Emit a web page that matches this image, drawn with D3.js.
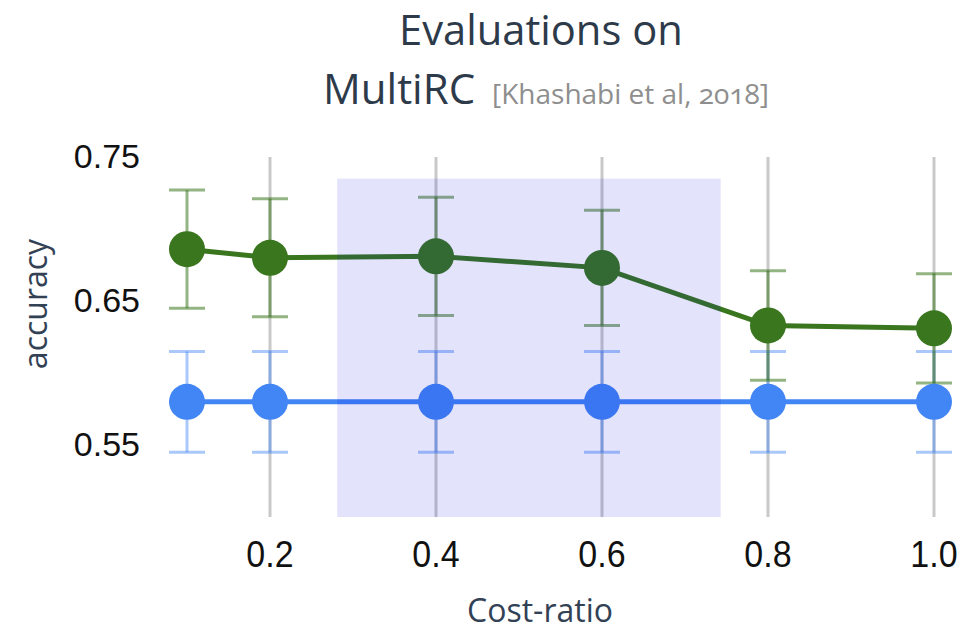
<!DOCTYPE html>
<html>
<head>
<meta charset="utf-8">
<script src="https://cdn.jsdelivr.net/npm/d3@7"></script>
<style>
  html, body { margin: 0; padding: 0; background: #fff; }
  svg { display: block; }
</style>
</head>
<body>
<svg id="chart" width="963" height="630"></svg>
<script>
// Cost-ratio settings evaluated
const costRatio = [0.1, 0.2, 0.4, 0.6, 0.8, 1.0];

// Upper series (green) accuracy and error half-widths
const greenAcc = [0.686, 0.680, 0.681, 0.673, 0.633, 0.631];
const greenErr = [0.041, 0.041, 0.041, 0.040, 0.038, 0.038];

// Lower series (blue) accuracy and error half-widths
const blueAcc = [0.580, 0.580, 0.580, 0.580, 0.580, 0.580];
const blueErr = [0.035, 0.035, 0.035, 0.035, 0.035, 0.035];

// Axis ticks
const xTicks = [0.2, 0.4, 0.6, 0.8, 1.0];
const yTicks = [0.55, 0.65, 0.75];

// Highlighted cost-ratio band (x extent, y extent)
const bandX = [0.281, 0.743];
const bandY = [0.5, 0.735];

const svg = d3.select("#chart");

const x = d3.scaleLinear().domain([0, 1.0]).range([104, 934]);
const y = d3.scaleLinear().domain([0.5, 0.75]).range([517, 157]);

const green = "#3a761e";
const blue = "#4285f4";

// vertical grid lines at x ticks
svg.append("g")
  .selectAll("line")
  .data(xTicks)
  .join("line")
  .attr("x1", d => x(d)).attr("x2", d => x(d))
  .attr("y1", y(0.75)).attr("y2", y(0.5))
  .attr("stroke", "#c9c9c9")
  .attr("stroke-width", 3);

// x tick labels
svg.append("g")
  .selectAll("text")
  .data(xTicks)
  .join("text")
  .attr("transform", d => `translate(${x(d)},567) scale(1,1.1)`)
  .attr("text-anchor", "middle")
  .attr("font-family", "Liberation Sans, Arial, sans-serif")
  .attr("font-size", 34)
  .attr("fill", "#111")
  .text(d => d.toFixed(1));

// y tick labels
svg.append("g")
  .selectAll("text")
  .data(yTicks)
  .join("text")
  .attr("x", 140)
  .attr("y", d => y(d) + 11)
  .attr("text-anchor", "end")
  .attr("font-family", "Liberation Sans, Arial, sans-serif")
  .attr("font-size", 34)
  .attr("fill", "#111")
  .text(d => d.toFixed(2));

function errorBars(acc, err, color) {
  const g = svg.append("g").attr("stroke", color).attr("stroke-width", 3);
  const rows = costRatio.map((c, i) => ({ c, lo: acc[i] - err[i], hi: acc[i] + err[i] }));
  g.selectAll("line.v").data(rows).join("line")
    .attr("class", "v")
    .attr("x1", d => x(d.c)).attr("x2", d => x(d.c))
    .attr("y1", d => y(d.hi)).attr("y2", d => y(d.lo));
  g.selectAll("line.top").data(rows).join("line")
    .attr("class", "top")
    .attr("x1", d => x(d.c) - 18).attr("x2", d => x(d.c) + 18)
    .attr("y1", d => y(d.hi)).attr("y2", d => y(d.hi));
  g.selectAll("line.bot").data(rows).join("line")
    .attr("class", "bot")
    .attr("x1", d => x(d.c) - 18).attr("x2", d => x(d.c) + 18)
    .attr("y1", d => y(d.lo)).attr("y2", d => y(d.lo));
}

function series(acc, color) {
  const pts = costRatio.map((c, i) => [c, acc[i]]);
  svg.append("path")
    .datum(pts)
    .attr("fill", "none")
    .attr("stroke", color)
    .attr("stroke-width", 5)
    .attr("d", d3.line().x(d => x(d[0])).y(d => y(d[1])));
  svg.append("g")
    .selectAll("circle")
    .data(pts)
    .join("circle")
    .attr("cx", d => x(d[0]))
    .attr("cy", d => y(d[1]))
    .attr("r", 18)
    .attr("fill", color);
}

errorBars(blueAcc, blueErr, "rgba(66,133,244,0.45)");
errorBars(greenAcc, greenErr, "rgba(58,118,30,0.55)");
series(blueAcc, blue);
series(greenAcc, green);

// translucent highlight band over the middle cost ratios
svg.append("rect")
  .attr("x", x(bandX[0]))
  .attr("y", y(bandY[1]))
  .attr("width", x(bandX[1]) - x(bandX[0]))
  .attr("height", y(bandY[0]) - y(bandY[1]))
  .attr("fill", "rgb(0,0,218)")
  .attr("fill-opacity", 0.11);

// titles
const titleFont = "Open Sans, Lato, sans-serif";
svg.append("text")
  .attr("x", 399).attr("y", 45)
  .attr("font-family", titleFont)
  .attr("font-size", 41.7)
  .attr("fill", "#2d3a4a")
  .text("Evaluations on");
svg.append("text")
  .attr("x", 323).attr("y", 104)
  .attr("font-family", titleFont)
  .attr("font-size", 42)
  .attr("fill", "#2d3a4a")
  .text("MultiRC");
svg.append("text")
  .attr("x", 492).attr("y", 104)
  .attr("font-family", titleFont)
  .attr("font-size", 28)
  .attr("fill", "#8e8e8e")
  .style("font-variant-numeric", "oldstyle-nums")
  .text("[Khashabi et al, 2018]");

// axis titles
svg.append("text")
  .attr("x", 540).attr("y", 622)
  .attr("text-anchor", "middle")
  .attr("font-family", titleFont)
  .attr("font-size", 32)
  .attr("fill", "#334155")
  .text("Cost-ratio");
svg.append("text")
  .attr("transform", "translate(47,304) rotate(-90)")
  .attr("text-anchor", "middle")
  .attr("font-family", titleFont)
  .attr("font-size", 32)
  .attr("fill", "#334155")
  .text("accuracy");
</script>
</body>
</html>
